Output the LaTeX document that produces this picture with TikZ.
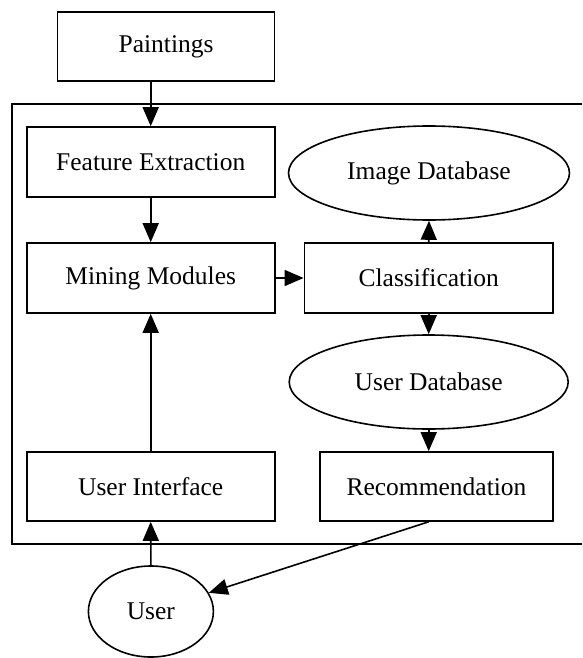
\documentclass[tikz,border=0pt]{standalone}
\usepackage{fontspec}
\setmainfont{Liberation Serif}
\usetikzlibrary{shapes.geometric,arrows.meta}
\begin{document}
\begin{tikzpicture}[x=1pt,y=-1pt,
  every node/.style={font=\fontsize{25.5}{28}\selectfont, line width=1.6pt, inner sep=0pt},
  box/.style={draw, rectangle},
  oval/.style={draw, ellipse},
  conn/.style={line width=1.6pt, -{Triangle[length=19pt,width=16pt]}},
  frame/.style={line width=1.6pt}]
\useasboundingbox (0,0) rectangle (582,658);
% outer frame (open on the right, runs to the edge)
\coordinate (ftr) at (582,104);
\coordinate (ftl) at (12,104);
\coordinate (fbl) at (12,544);
\coordinate (fbr) at (582,544);
\draw[frame] (ftr) -- (ftl) -- (fbl) -- (fbr);
% nodes
\node[box, minimum width=217pt, minimum height=69pt] (paint) at (166.1,46.5) {Paintings};
\node[box, minimum width=248pt, minimum height=70pt] (fe) at (150.7,162) {Feature Extraction};
\node[box, minimum width=248pt, minimum height=70pt] (mm) at (150.7,278) {Mining Modules};
\node[box, minimum width=248pt, minimum height=69pt] (ui) at (150.7,486.5) {User Interface};
\node[box, minimum width=248.6pt, minimum height=70pt] (cls) at (428.7,278) {Classification};
\node[box, minimum width=233pt, minimum height=69pt] (rec) at (436.5,486.5) {Recommendation};
\node[oval, minimum width=281pt, minimum height=94pt] (imgdb) at (429,173) {Image Database};
\node[oval, minimum width=279pt, minimum height=94pt] (usrdb) at (428.7,382) {User Database};
\node[oval, minimum width=125pt, minimum height=91pt] (user) at (150.9,611.5) {User};
% connectors
\draw[conn] (fe.north |- paint.south) -- (fe.north);
\draw[conn] (fe.south) -- (mm.north);
\draw[conn] (mm.east) -- (cls.west);
\draw[conn] (cls.north) -- (imgdb.south);
\draw[conn] (cls.south) -- (usrdb.north);
\draw[conn] (usrdb.south) -- (usrdb.south |- rec.north);
\draw[conn] (ui.north) -- (mm.south);
\draw[conn] (user.north) -- (ui.south);
\draw[conn] (usrdb.south |- rec.south) -- (user);
\end{tikzpicture}
\end{document}
